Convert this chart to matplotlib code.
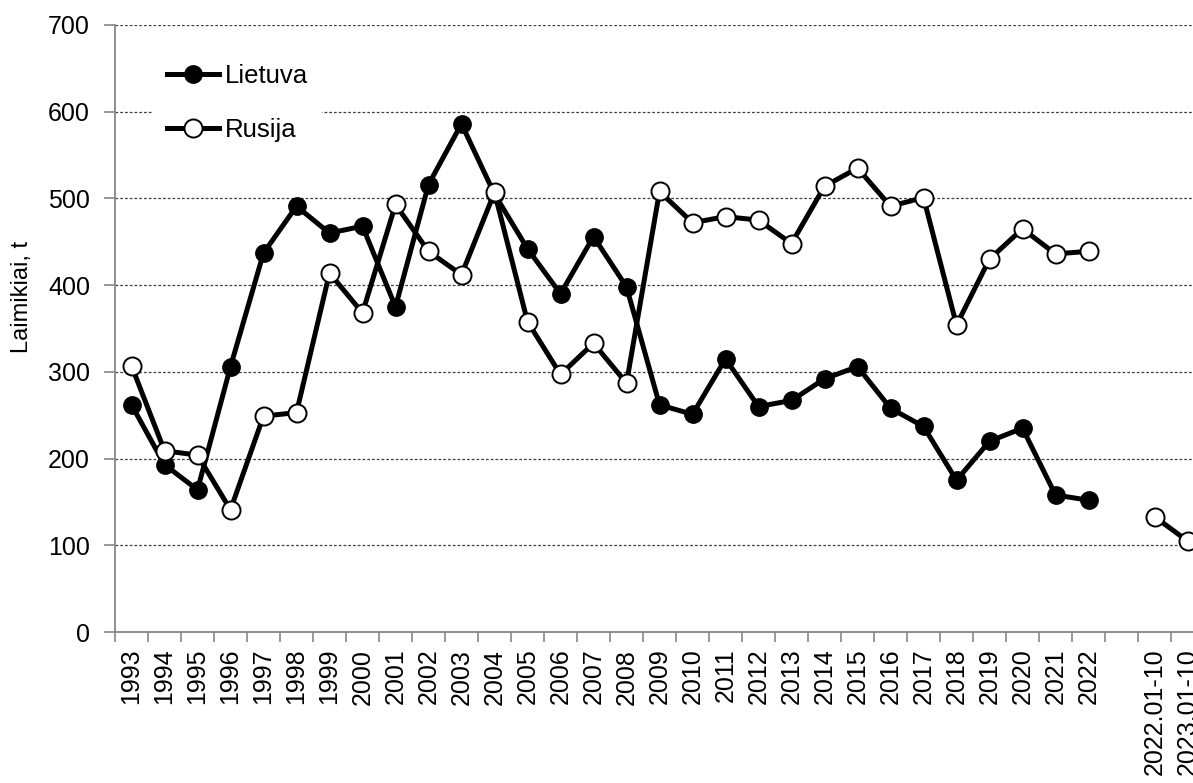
import numpy as np
import matplotlib
matplotlib.use("Agg")
import matplotlib.pyplot as plt

plt.rcParams['font.family'] = ['Liberation Sans', 'DejaVu Sans']

# Categories on the x axis (empty slot between 2022 and the partial-year values)
categories = [str(y) for y in range(1993, 2023)] + ["", "2022.01-10", "2023.01-10"]

# Catch (t)
lietuva = [262, 193, 164, 306, 437, 491, 460, 468, 375, 516,
           586, 505, 442, 390, 456, 398, 262, 251, 315, 260,
           267, 292, 306, 258, 237, 175, 220, 235, 158, 152,
           np.nan, np.nan, np.nan]
rusija = [307, 209, 204, 141, 249, 253, 414, 368, 493, 439,
          412, 507, 358, 297, 333, 287, 508, 472, 479, 475,
          448, 514, 535, 491, 501, 354, 430, 465, 436, 439,
          np.nan, 133, 105]

x = np.arange(len(categories))

fig = plt.figure(figsize=(11.93, 7.83), dpi=100)
# plot area runs a bit past the right edge, as in the original
ax = fig.add_axes([115 / 1193, 151 / 783, 1089 / 1193, 607 / 783])

ax.plot(x, lietuva, color="black", lw=3.6, marker="o", ms=12.5,
        mfc="black", mec="black", label="Lietuva", clip_on=False, zorder=3)
ax.plot(x, rusija, color="black", lw=3.6, marker="o", ms=13,
        mfc="white", mec="black", mew=1.4, label="Rusija", clip_on=False, zorder=4)

ax.set_xlim(-0.5, len(categories) - 0.5)
ax.set_ylim(0, 700)
ax.set_yticks(range(0, 701, 100))
ax.tick_params(axis="y", labelsize=18, length=8, width=1.2, color="#868686", pad=10)

ax.set_xticks(x)
ax.set_xticklabels(categories, rotation=90, fontsize=18)
ax.set_xticks(np.arange(-0.5, len(categories)), minor=True)
ax.tick_params(axis="x", which="major", length=0, pad=12)
ax.tick_params(axis="x", which="minor", length=7, width=1.2, color="#868686")

for v in range(100, 701, 100):
    ax.axhline(v, color="#404040", lw=0.9, ls=(0, (2.2, 1.6)), zorder=1)

ax.spines["top"].set_visible(False)
ax.spines["right"].set_visible(False)
for s in ["left", "bottom"]:
    ax.spines[s].set_color("#868686")
    ax.spines[s].set_linewidth(1.3)

fig.text(22 / 1193, 1 - 297 / 783, "Laimikiai, t", rotation=90,
         ha="center", va="center", fontsize=17)

leg = ax.legend(loc="upper left", bbox_to_anchor=(153 / 1193, 1 - 50 / 783),
                bbox_transform=fig.transFigure, fontsize=18.5, handlelength=2.0,
                handletextpad=0.25, labelspacing=1.15, borderpad=0.55,
                borderaxespad=0, frameon=True, fancybox=False, framealpha=1)
leg.get_frame().set_edgecolor("none")
leg.set_zorder(5)

fig.savefig("out.png", dpi=100)
